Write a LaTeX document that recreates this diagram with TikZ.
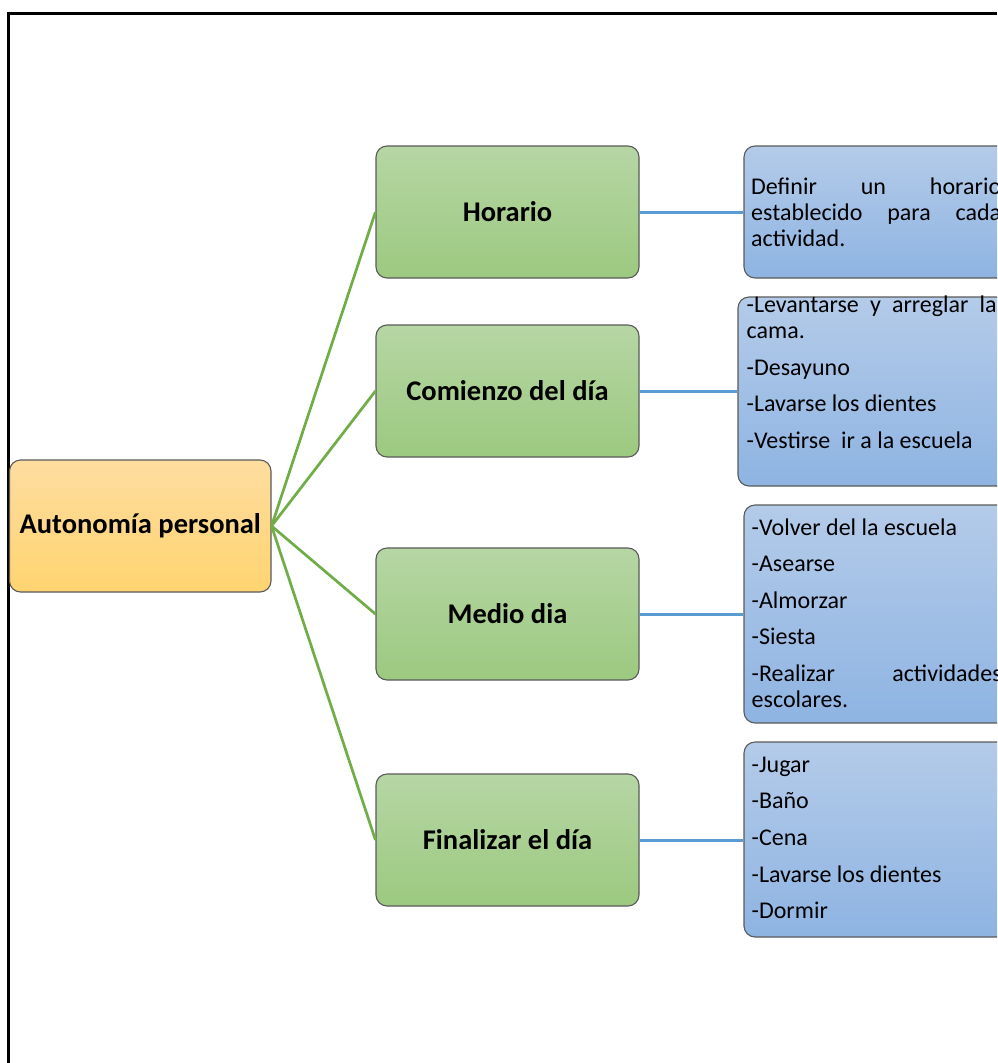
\documentclass[tikz,border=0pt]{standalone}
\usepackage{fontspec}
\setmainfont{Carlito}
\definecolor{edgegray}{RGB}{90,90,90}
\definecolor{orTop}{RGB}{254,221,160}
\definecolor{orBot}{RGB}{255,212,112}
\definecolor{grTop}{RGB}{182,214,164}
\definecolor{grBot}{RGB}{156,201,128}
\definecolor{blTop}{RGB}{180,203,233}
\definecolor{blBot}{RGB}{142,180,226}
\definecolor{grLine}{RGB}{112,173,71}
\definecolor{blLine}{RGB}{91,155,213}
\newcommand{\jl}[1]{\hbox to 250pt{#1}}
\newcommand{\pl}[1]{\hbox{#1}}
\newcommand{\gap}{\vskip 10.6pt}
\begin{document}
\begin{tikzpicture}[x=1pt,y=-1pt,
  basebox/.style={draw=edgegray, line width=1.1pt, rounded corners=11pt, inner sep=0pt},
  rootbox/.style={basebox, top color=orTop, bottom color=orBot, minimum width=261.5pt, minimum height=132pt,
     font=\fontsize{28.5}{34}\selectfont\bfseries},
  midbox/.style={basebox, top color=grTop, bottom color=grBot, minimum width=263pt, minimum height=132pt,
     font=\fontsize{28.5}{34}\selectfont\bfseries},
  leafbox/.style={basebox, top color=blTop, bottom color=blBot},
  leaftext/.style={anchor=base west, inner sep=0pt, font=\fontsize{24}{26}\selectfont},
  greenline/.style={draw=grLine, line width=2.7pt},
  blueline/.style={draw=blLine, line width=3pt}
]
\useasboundingbox (0,0) rectangle (997,1063);
\clip (0,0) rectangle (997,1063);
\fill[white] (0,0) rectangle (997,1063);
\draw[line width=2.6pt] (8.2,1063) -- (8.2,13.6) -- (997,13.6);

% root
\node[rootbox] (root) at (140.25,526) {Autonomía personal};

% middle boxes
\node[midbox] (h1) at (507.5,212) {Horario};
\node[midbox] (h2) at (507.5,391) {Comienzo del día};
\node[midbox] (h3) at (507.5,614) {Medio dia};
\node[midbox] (h4) at (507.5,840) {Finalizar el día};

% leaf boxes
\node[leafbox, minimum width=266pt, minimum height=132pt] (b1) at (877,212) {};
\node[leafbox, minimum width=272pt, minimum height=189pt] (b2) at (874,391.5) {};
\node[leafbox, minimum width=266pt, minimum height=218pt] (b3) at (877,614) {};
\node[leafbox, minimum width=266pt, minimum height=195pt] (b4) at (877,839.5) {};

% leaf texts
\node[leaftext] (t1) at (751,194) {\vtop{\baselineskip=26pt\lineskiplimit=-50pt
  \jl{Definir un horario}
  \jl{establecido para cada}
  \pl{actividad.}}};
\node[leaftext] (t2) at (746.5,312.5) {\vtop{\baselineskip=26pt\lineskiplimit=-50pt
  \jl{-Levantarse y arreglar la}
  \pl{cama.}\gap
  \pl{-Desayuno}\gap
  \pl{-Lavarse los dientes}\gap
  \pl{-Vestirse\ \ ir a la escuela}}};
\node[leaftext] (t3) at (751.5,535) {\vtop{\baselineskip=26pt\lineskiplimit=-50pt
  \pl{-Volver del la escuela}\gap
  \pl{-Asearse}\gap
  \pl{-Almorzar}\gap
  \pl{-Siesta}\gap
  \jl{-Realizar actividades}
  \pl{escolares.}}};
\node[leaftext] (t4) at (751.5,772.3) {\vtop{\baselineskip=26pt\lineskiplimit=-50pt
  \pl{-Jugar}\gap
  \pl{-Baño}\gap
  \pl{-Cena}\gap
  \pl{-Lavarse los dientes}\gap
  \pl{-Dormir}}};

% connectors
\foreach \m in {h1,h2,h3,h4} \draw[greenline] (root.east) -- (\m.west);
\draw[blueline] (h1.east) -- (b1.west);
\draw[blueline] (h2.east) -- (h2.east -| b2.west);
\draw[blueline] (h3.east) -- (b3.west);
\draw[blueline] (h4.east) -- (h4.east -| b4.west);
\end{tikzpicture}
\end{document}
